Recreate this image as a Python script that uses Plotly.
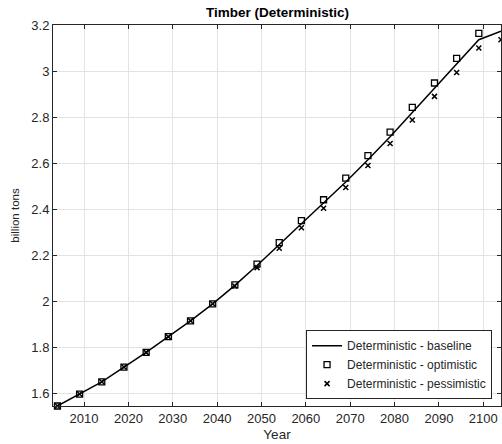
import plotly.graph_objects as go

years = [2004, 2009, 2014, 2019, 2024, 2029, 2034, 2039, 2044, 2049, 2054,
         2059, 2064, 2069, 2074, 2079, 2084, 2089, 2094, 2099, 2104]
baseline = [1.545, 1.597, 1.650, 1.714, 1.778, 1.846, 1.915, 1.989, 2.069, 2.155, 2.245,
            2.337, 2.426, 2.518, 2.615, 2.715, 2.820, 2.925, 3.030, 3.136, 3.173]
optimistic = [1.545, 1.597, 1.650, 1.714, 1.778, 1.846, 1.915, 1.989, 2.071, 2.161, 2.255,
              2.350, 2.441, 2.535, 2.633, 2.735, 2.842, 2.948, 3.055, 3.164, 3.201]
pessimistic = [1.545, 1.597, 1.650, 1.714, 1.778, 1.846, 1.915, 1.989, 2.066, 2.146, 2.230,
               2.319, 2.404, 2.494, 2.590, 2.685, 2.787, 2.890, 2.994, 3.100, 3.136]
x_ticks = [2010, 2020, 2030, 2040, 2050, 2060, 2070, 2080, 2090, 2100]
y_ticks = [1.6, 1.8, 2.0, 2.2, 2.4, 2.6, 2.8, 3.0, 3.2]
y_tick_labels = ["1.6", "1.8", "2", "2.2", "2.4", "2.6", "2.8", "3", "3.2"]

fig = go.Figure()
fig.add_trace(go.Scatter(x=years, y=baseline, mode="lines",
                         line=dict(color="black", width=1.5),
                         name="Deterministic - baseline"))
fig.add_trace(go.Scatter(x=years, y=optimistic, mode="markers",
                         marker=dict(symbol="square-open", size=6, color="black",
                                     line=dict(width=1.3, color="black")),
                         name="Deterministic - optimistic", cliponaxis=False))
fig.add_trace(go.Scatter(x=years, y=pessimistic, mode="markers",
                         marker=dict(symbol="x-thin-open", size=5, color="black",
                                     line=dict(width=1.5, color="black")),
                         name="Deterministic - pessimistic", cliponaxis=False))

axis_common = dict(showline=True, linecolor="#262626", linewidth=1, mirror="ticks",
                   ticks="inside", ticklen=4, tickcolor="#262626", automargin=False,
                   showgrid=True, gridcolor="#e3e3e3", gridwidth=1, zeroline=False,
                   tickfont=dict(family="Liberation Sans, Arial, sans-serif", size=13, color="#262626"))

fig.update_layout(
    width=502, height=444,
    margin=dict(l=53, r=1, t=25, b=38, autoexpand=False),
    paper_bgcolor="white", plot_bgcolor="white",
    font=dict(family="Liberation Sans, Arial, sans-serif", size=12, color="#262626"),
    title=dict(text="<b>Timber (Deterministic)</b>", x=0.553, xanchor="center",
               y=0.973, yanchor="middle",
               font=dict(size=13.5, color="black")),
    xaxis=dict(range=[2003.0, 2104.0], tickvals=x_ticks,
               title=dict(text="Year", standoff=4, font=dict(size=13.5)), **axis_common),
    yaxis=dict(range=[1.545, 3.2], tickvals=y_ticks, ticktext=y_tick_labels,
               title=dict(text="billion tons", standoff=9, font=dict(size=11.5)), **axis_common),
    legend=dict(x=0.98, y=0.018, xanchor="right", yanchor="bottom",
                bgcolor="white", bordercolor="#262626", borderwidth=1,
                font=dict(size=12, color="#262626"), tracegroupgap=0,
                itemwidth=30),
    showlegend=True,
)

fig.write_html("out.html", config={"displayModeBar": False},
               post_script="document.body.style.margin='0';document.body.style.overflow='hidden';")
